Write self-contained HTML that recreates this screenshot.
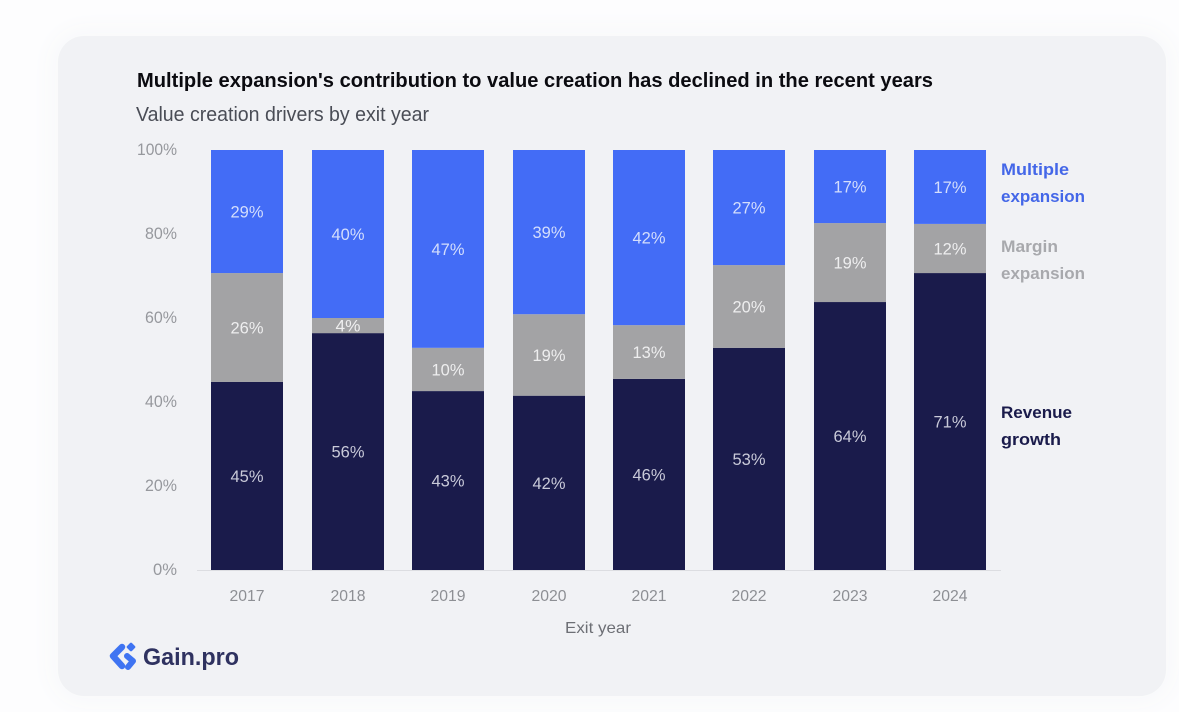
<!DOCTYPE html>
<html lang="en">
<head>
<meta charset="utf-8">
<title>Value creation drivers by exit year</title>
<style>
html,body{margin:0;padding:0;width:1179px;height:712px;overflow:hidden;background:#fdfdfe;}
#card{position:absolute;left:58px;top:36px;width:1108px;height:660px;border-radius:26px;background:#f1f2f5;box-shadow:0 0 24px 8px #f8f9fa;}
svg{position:absolute;left:0;top:0;font-family:"Liberation Sans",sans-serif;}
</style>
</head>
<body>
<div id="card"></div>
<svg id="chart" width="1179" height="712" viewBox="0 0 1179 712" xmlns="http://www.w3.org/2000/svg">
  <text x="137" y="87" font-size="20" font-weight="700" fill="#0b0b10" textLength="796" lengthAdjust="spacingAndGlyphs">Multiple expansion's contribution to value creation has declined in the recent years</text>
  <text x="136" y="121" font-size="20" fill="#4a4d56" textLength="293" lengthAdjust="spacingAndGlyphs">Value creation drivers by exit year</text>
  <text x="598" y="633" font-size="16" fill="#6d6f75" text-anchor="middle" textLength="66" lengthAdjust="spacingAndGlyphs">Exit year</text>
  <g id="marks"></g>
  <g>
    <text x="1001" y="175" font-size="17" font-weight="700" fill="#4467e8" textLength="68" lengthAdjust="spacingAndGlyphs">Multiple</text>
    <text x="1001" y="202" font-size="17" font-weight="700" fill="#4467e8" textLength="84" lengthAdjust="spacingAndGlyphs">expansion</text>
    <text x="1001" y="252" font-size="17" font-weight="700" fill="#a8a9ad" textLength="57" lengthAdjust="spacingAndGlyphs">Margin</text>
    <text x="1001" y="279" font-size="17" font-weight="700" fill="#a8a9ad" textLength="84" lengthAdjust="spacingAndGlyphs">expansion</text>
    <text x="1001" y="418" font-size="17" font-weight="700" fill="#1a1b4b" textLength="71" lengthAdjust="spacingAndGlyphs">Revenue</text>
    <text x="1001" y="445" font-size="17" font-weight="700" fill="#1a1b4b" textLength="60" lengthAdjust="spacingAndGlyphs">growth</text>
  </g>
  <g>
    <polyline points="122,647 113,656 122,666" fill="none" stroke="#3f74f2" stroke-width="6.5" stroke-linejoin="round" stroke-linecap="round"/>
    <rect x="127.5" y="643.5" width="7" height="7" rx="1.5" transform="rotate(45 131 647)" fill="#3f74f2"/>
    <polyline points="127,656 133,661 128,667" fill="none" stroke="#3f74f2" stroke-width="6" stroke-linejoin="round" stroke-linecap="round"/>
    <text x="143" y="665" font-size="24" font-weight="700" fill="#2f3260" textLength="96" lengthAdjust="spacingAndGlyphs">Gain.pro</text>
  </g>
</svg>
<script>
var years = ["2017","2018","2019","2020","2021","2022","2023","2024"];
var revenueGrowth = [44.8,56.4,42.6,41.5,45.5,52.9,63.8,70.7];
var marginExpansion = [25.9,3.6,10.3,19.4,12.8,19.7,18.8,11.7];
var multipleExpansion = [29.3,40,47.1,39.1,41.7,27.4,17.4,17.6];
var revenueLabels = ["45%","56%","43%","42%","46%","53%","64%","71%"];
var marginLabels = ["26%","4%","10%","19%","13%","20%","19%","12%"];
var multipleLabels = ["29%","40%","47%","39%","42%","27%","17%","17%"];
var yTicks = [0,20,40,60,80,100];

var NS = "http://www.w3.org/2000/svg";
var marks = document.getElementById("marks");
function yScale(v){ return 570 - v * 4.2; }
function xScale(i){ return Math.round(211.3 + i * 100.4); }
var barWidth = 72;

function addText(x, y, str, size, fill, anchor, w){
  var t = document.createElementNS(NS, "text");
  t.setAttribute("x", x);
  t.setAttribute("y", y);
  t.setAttribute("font-size", size);
  t.setAttribute("fill", fill);
  t.setAttribute("text-anchor", anchor);
  t.setAttribute("textLength", w);
  t.setAttribute("lengthAdjust", "spacingAndGlyphs");
  t.textContent = str;
  marks.appendChild(t);
  return t;
}

yTicks.forEach(function(v){
  var s = v + "%";
  var t = addText(177, yScale(v) + 5, s, 17, "#96989d", "end", s.length * 8 + 8);
  
  
});

var series = [
  {key:"revenue", values:revenueGrowth, labels:revenueLabels, color:"#1a1b4b", text:"#c9cad9"},
  {key:"margin", values:marginExpansion, labels:marginLabels, color:"#a3a3a5", text:"#eeeeef"},
  {key:"multiple", values:multipleExpansion, labels:multipleLabels, color:"#436cf6", text:"#d4defc"}
];

years.forEach(function(year, i){
  var base = 0;
  series.forEach(function(s){
    var v = s.values[i];
    var top = yScale(base + v);
    var bottom = yScale(base);
    var r = document.createElementNS(NS, "rect");
    r.setAttribute("x", xScale(i));
    r.setAttribute("y", top);
    r.setAttribute("width", barWidth);
    r.setAttribute("height", bottom - top);
    r.setAttribute("fill", s.color);
    
    
    marks.appendChild(r);
    var lab = s.labels[i];
    var t = addText(xScale(i) + barWidth / 2, (top + bottom) / 2 + 6, lab, 17, s.text, "middle", lab.length * 8 + 9);
    
    
    base += v;
  });
  var xl = addText(xScale(i) + barWidth / 2, 601, year, 16, "#8d8f94", "middle", 35);
  
  
});

var axis = document.createElementNS(NS, "line");
axis.setAttribute("x1", 197);
axis.setAttribute("x2", 1001);
axis.setAttribute("y1", 570.5);
axis.setAttribute("y2", 570.5);
axis.setAttribute("stroke", "#dcdde1");
axis.setAttribute("stroke-width", 1);


marks.insertBefore(axis, marks.firstChild);
</script>
</body>
</html>
